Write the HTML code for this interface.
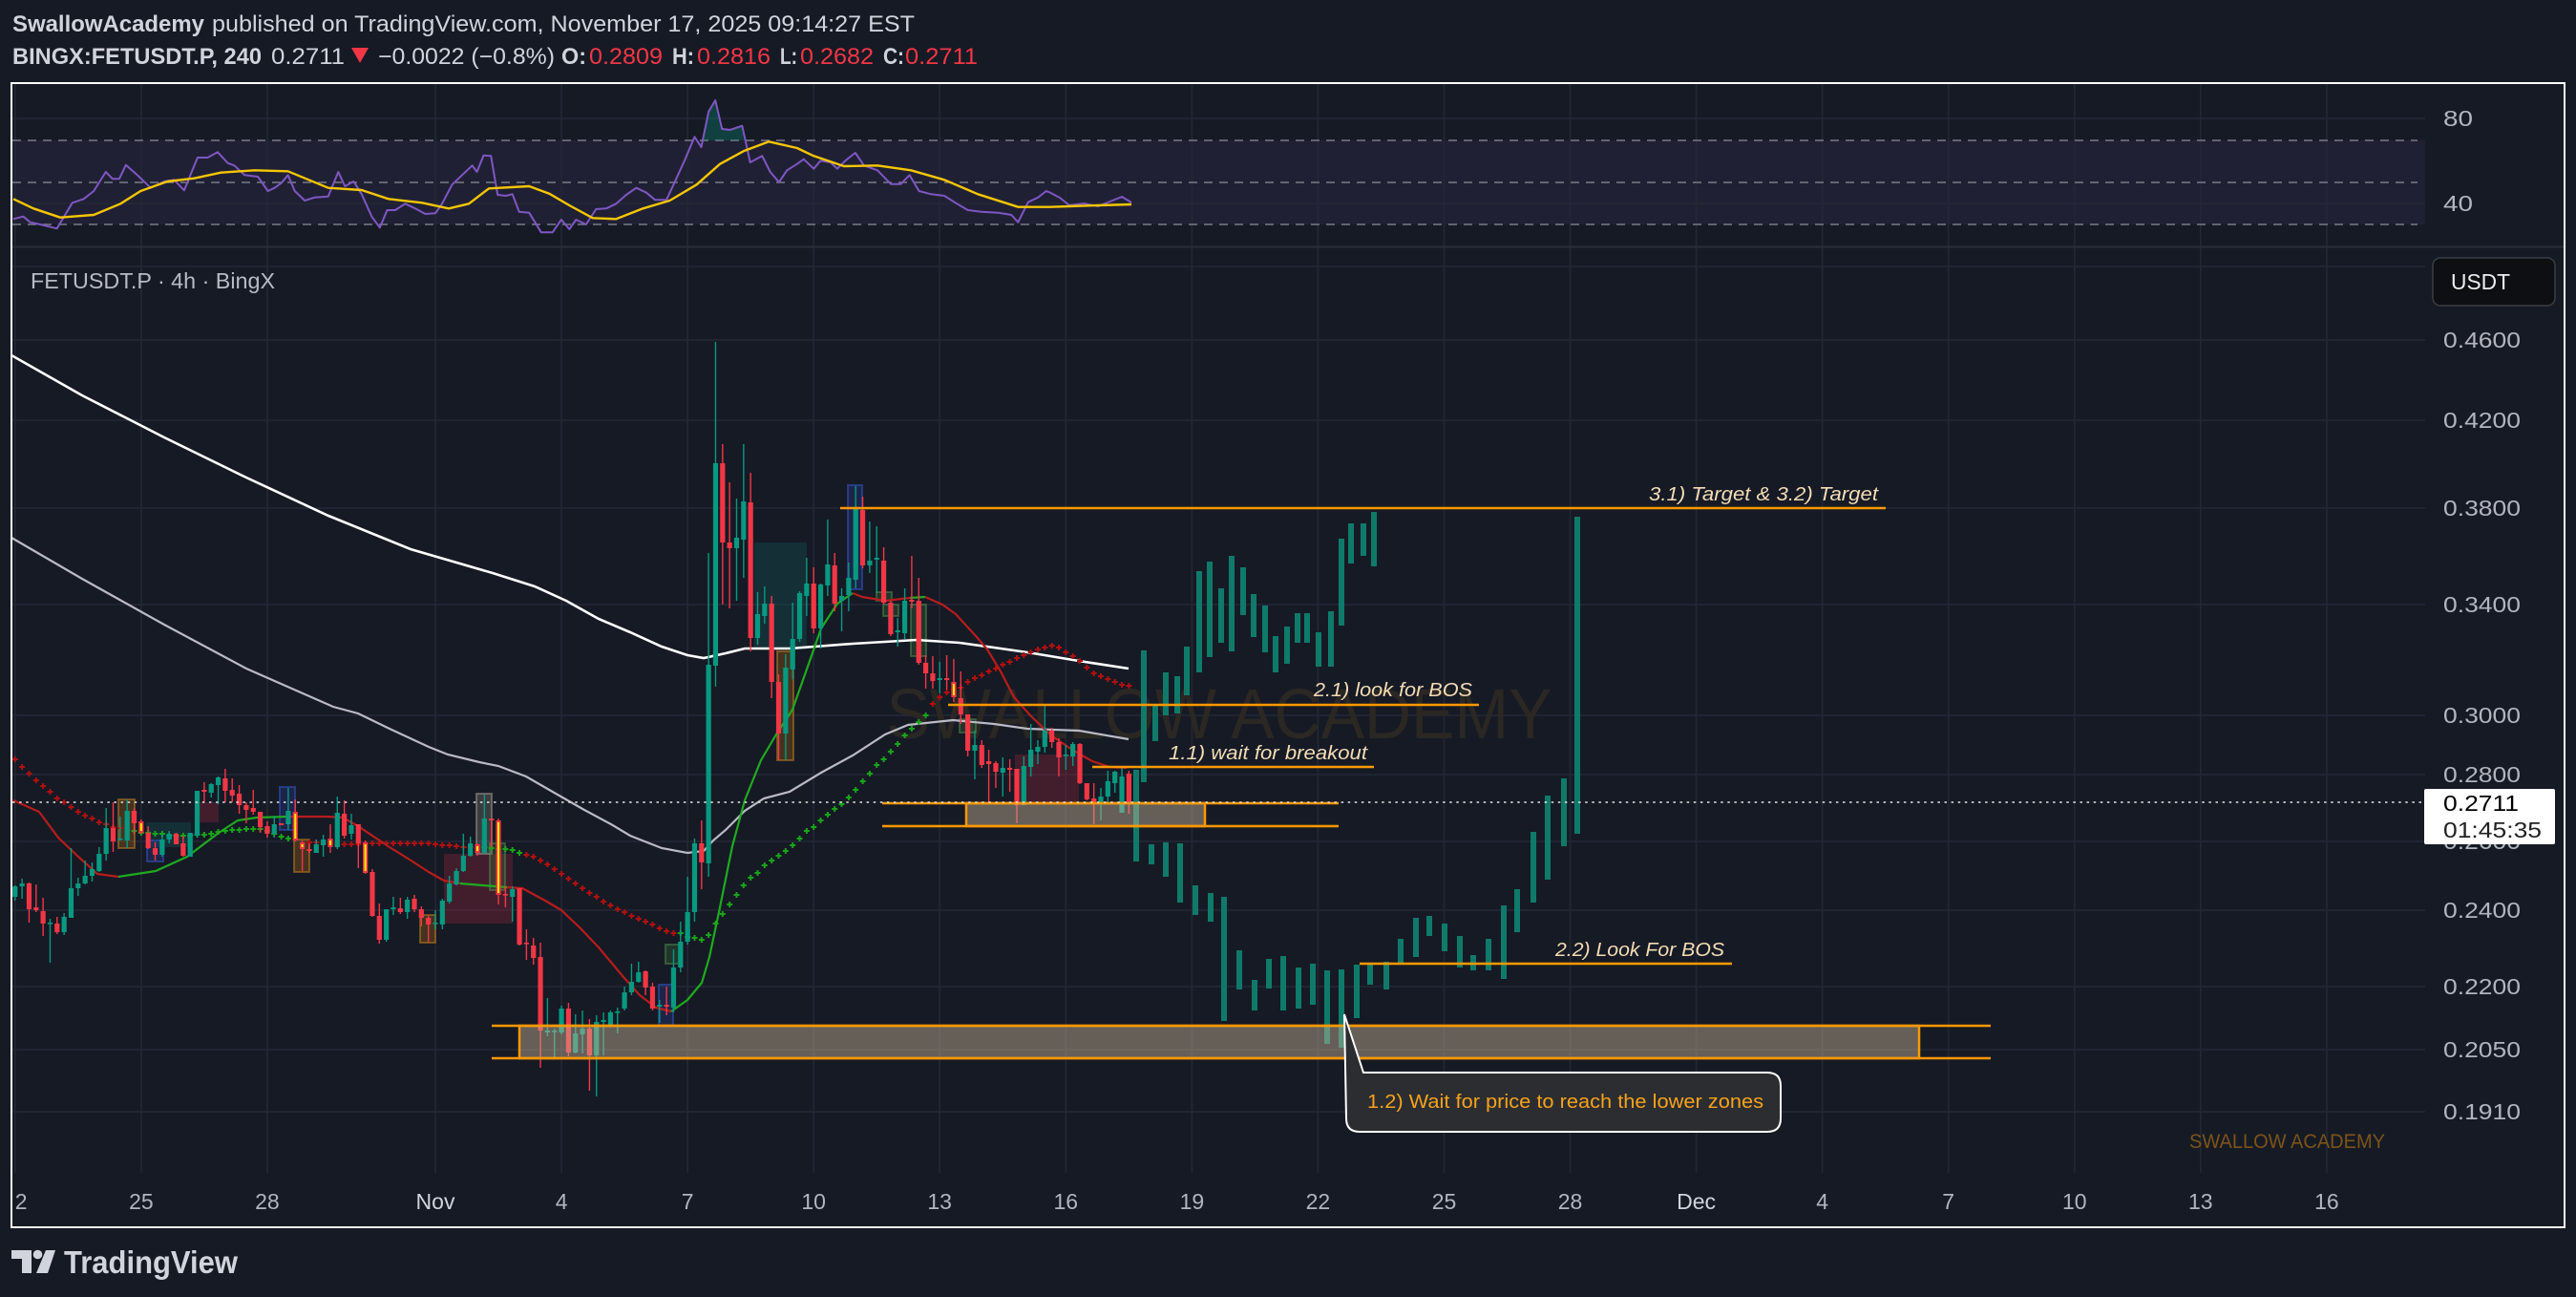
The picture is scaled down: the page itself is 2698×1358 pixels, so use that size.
<!DOCTYPE html>
<html><head><meta charset="utf-8">
<style>
html,body{margin:0;padding:0;background:#161a25;width:2698px;height:1358px;overflow:hidden}
svg{display:block}
text{font-family:"Liberation Sans",sans-serif}
</style></head>
<body>
<svg id="s" width="2698" height="1358" viewBox="0 0 2698 1358" xmlns="http://www.w3.org/2000/svg">
<defs>
<clipPath id="cm"><rect x="13" y="259" width="2527" height="969"/></clipPath>
<clipPath id="cr"><rect x="13" y="88" width="2527" height="170"/></clipPath>
<clipPath id="ct"><rect x="15" y="1228" width="2525" height="56"/></clipPath>
</defs>
<rect x="0" y="0" width="2698" height="1358" fill="#161a25"/>
<!-- RSI band -->
<rect x="13" y="147" width="2527" height="88" fill="rgba(126,87,194,0.10)"/>
<g id="grid"></g>
<g stroke="#787b86" stroke-width="1.5" stroke-dasharray="9 7">
<line x1="13" y1="147" x2="2532" y2="147"/>
<line x1="13" y1="191" x2="2532" y2="191"/>
<line x1="13" y1="235" x2="2532" y2="235"/>
</g>
<g id="rsi" clip-path="url(#cr)"></g>
<line x1="12" y1="258.5" x2="2686" y2="258.5" stroke="#2a2e39" stroke-width="2"/>

<!-- watermark -->
<text x="1277" y="773" text-anchor="middle" font-size="74" fill="#2b2723" textLength="697" lengthAdjust="spacingAndGlyphs">SWALLOW ACADEMY</text>

<g clip-path="url(#cm)">
<!-- shaded boxes -->
<g>
<rect x="465" y="894" width="72" height="73" fill="rgba(120,35,55,0.45)"/>
<rect x="204" y="840" width="25" height="21" fill="rgba(120,35,55,0.45)"/>
<rect x="1063" y="790" width="67" height="52" fill="rgba(120,35,55,0.45)"/>
<rect x="153" y="861" width="47" height="26" fill="rgba(20,90,90,0.35)"/>
<rect x="790" y="568" width="55" height="112" fill="rgba(20,90,90,0.35)"/>
<g fill="rgba(160,100,20,0.35)" stroke="rgba(200,130,30,0.5)" stroke-width="2">
<rect x="124" y="837" width="17" height="51"/>
<rect x="308" y="879" width="16" height="34"/>
<rect x="440" y="958" width="16" height="29"/>
<rect x="814" y="682" width="17" height="114"/>
</g>
<g fill="rgba(40,60,140,0.35)" stroke="rgba(50,80,180,0.6)" stroke-width="2">
<rect x="154" y="880" width="17" height="22"/>
<rect x="293" y="824" width="16" height="45"/>
<rect x="690" y="1031" width="15" height="43"/>
<rect x="888" y="508" width="15" height="109"/>
</g>
<rect x="499" y="831" width="16" height="63" fill="rgba(150,140,130,0.3)" stroke="rgba(170,160,150,0.5)" stroke-width="2"/>
<g fill="rgba(60,120,60,0.3)" stroke="rgba(80,140,80,0.5)" stroke-width="2">
<rect x="513" y="883" width="16" height="49"/>
<rect x="954" y="633" width="16" height="54"/>
<rect x="697" y="989" width="16" height="20"/>
<rect x="918" y="620" width="16" height="9"/>
<rect x="925" y="633" width="16" height="12"/>
<rect x="1005" y="753" width="17" height="14"/>
</g>
</g>
<!-- MAs -->
<polyline fill="none" stroke="#ffffff" stroke-width="2.6" points="12,372 86,414 172,458 258,500 344,540 430,575 516,600 560,614 593,629 627,648 660,662 693,677 720,686 737,689 760,684 780,679 827,679 893,674 960,670 1005,673 1041,678 1076,683 1130,692 1182,700"/>
<polyline fill="none" stroke="#b9bac4" stroke-width="2.2" points="12,563 86,606 172,654 258,700 349,740 375,747 408,763 449,782 469,790 502,798 522,802 551,813 584,832 612,848 640,863 660,875 693,888 720,893 737,891 747,880 760,869 780,849 800,836 827,829 860,809 893,791 927,769 951,759 998,754 1041,758 1076,763 1130,765 1182,774"/>
<g id="sar"></g>
<g fill="none" stroke-width="2.2" stroke-linejoin="round">
<polyline stroke="#b71c1c" points="14,838 41,850 61,877 82,897 102,915 124,918"/>
<polyline stroke="#1faa1f" points="124,918 163,912 196,897 229,872 249,859 269,856 302,855"/>
<polyline stroke="#b71c1c" points="302,855 343,855 359,856 375,865 408,887 429,900 449,913 465,922 482,925"/>
<polyline stroke="#1faa1f" points="482,925 506,927 531,929"/>
<polyline stroke="#b71c1c" points="531,929 547,930 571,943 588,953 608,972 627,992 653,1023 670,1042 687,1055 703,1059"/>
<polyline stroke="#1faa1f" points="703,1059 720,1047 735,1029 743,1002 753,955 767,886 780,838 797,796 813,769 830,743 847,695 860,658 877,632 893,621"/>
<polyline stroke="#b71c1c" points="893,621 903,625 927,629 953,626"/>
<polyline stroke="#1faa1f" points="953,626 969,625"/>
<polyline stroke="#b71c1c" points="969,625 987,633 1001,643 1023,667 1034,680 1048,703 1062,730 1080,750 1101,770 1123,785 1144,797 1162,803 1180,804"/>
</g>
<g id="candles"></g>
<g id="proj"></g>

<!-- zones -->
<g stroke="#ff9800" stroke-width="2.5">
<line x1="515" y1="1074" x2="2085" y2="1074"/>
<line x1="515" y1="1108" x2="2085" y2="1108"/>
<rect x="544" y="1074" width="1466" height="34" fill="rgba(200,180,150,0.45)"/>
<line x1="924" y1="841" x2="1402" y2="841"/>
<line x1="924" y1="865" x2="1402" y2="865"/>
<rect x="1012" y="841" width="250" height="24" fill="rgba(200,180,150,0.45)"/>
<line x1="880" y1="532" x2="1975" y2="532"/>
<line x1="993" y1="738" x2="1549" y2="738"/>
<line x1="1144" y1="803" x2="1439" y2="803"/>
<line x1="1424" y1="1009" x2="1814" y2="1009"/>
</g>
<g font-size="20" font-style="italic" fill="#f3dcb5">
<text x="1727" y="524" textLength="240" lengthAdjust="spacingAndGlyphs">3.1) Target &amp; 3.2) Target</text>
<text x="1376" y="729" textLength="166" lengthAdjust="spacingAndGlyphs">2.1) look for BOS</text>
<text x="1224" y="795" textLength="208" lengthAdjust="spacingAndGlyphs">1.1) wait for breakout</text>
<text x="1629" y="1001" textLength="177" lengthAdjust="spacingAndGlyphs">2.2) Look For BOS</text>
</g>
<!-- callout -->
<path d="M1408,1062 L1428,1123 L1851,1123 Q1865,1123 1865,1137 L1865,1171 Q1865,1185 1851,1185 L1424,1185 Q1410,1185 1410,1171 Z" fill="#2b2d31" stroke="#ffffff" stroke-width="2"/>
<text x="1432" y="1160" font-size="20" fill="#f7a21b" textLength="415" lengthAdjust="spacingAndGlyphs">1.2) Wait for price to reach the lower zones</text>
<text x="2293" y="1202" font-size="21" fill="#7c5418" textLength="205" lengthAdjust="spacingAndGlyphs">SWALLOW ACADEMY</text>
</g>
<!-- price line -->
<line x1="13" y1="840" x2="2538" y2="840" stroke="#e6e6e6" stroke-width="1.6" stroke-dasharray="2.5 4.6"/>

<!-- label -->
<text x="32" y="302" font-size="23" fill="#b8bbc4" textLength="256" lengthAdjust="spacingAndGlyphs">FETUSDT.P · 4h · BingX</text>

<!-- RSI axis labels -->
<g font-size="23" fill="#b2b5be">
<text x="2559" y="132" textLength="31" lengthAdjust="spacingAndGlyphs">80</text>
<text x="2559" y="221" textLength="31" lengthAdjust="spacingAndGlyphs">40</text>
</g>
<!-- Price axis labels -->
<g font-size="23" fill="#b2b5be">
<text x="2559" y="364" textLength="81" lengthAdjust="spacingAndGlyphs">0.4600</text>
<text x="2559" y="448" textLength="81" lengthAdjust="spacingAndGlyphs">0.4200</text>
<text x="2559" y="540" textLength="81" lengthAdjust="spacingAndGlyphs">0.3800</text>
<text x="2559" y="641" textLength="81" lengthAdjust="spacingAndGlyphs">0.3400</text>
<text x="2559" y="757" textLength="81" lengthAdjust="spacingAndGlyphs">0.3000</text>
<text x="2559" y="819" textLength="81" lengthAdjust="spacingAndGlyphs">0.2800</text>
<text x="2559" y="889" textLength="81" lengthAdjust="spacingAndGlyphs">0.2600</text>
<text x="2559" y="961" textLength="81" lengthAdjust="spacingAndGlyphs">0.2400</text>
<text x="2559" y="1041" textLength="81" lengthAdjust="spacingAndGlyphs">0.2200</text>
<text x="2559" y="1107" textLength="81" lengthAdjust="spacingAndGlyphs">0.2050</text>
<text x="2559" y="1172" textLength="81" lengthAdjust="spacingAndGlyphs">0.1910</text>
</g>
<!-- USDT box -->
<rect x="2548" y="270" width="128" height="50" rx="8" fill="#0e0f12" stroke="#3a3d45" stroke-width="1.5"/>
<text x="2567" y="303" font-size="23" fill="#ececec" textLength="62" lengthAdjust="spacingAndGlyphs">USDT</text>
<!-- current price box -->
<rect x="2539" y="826" width="137" height="58" rx="2" fill="#ffffff"/>
<text x="2559" y="849" font-size="23" fill="#000000" textLength="79" lengthAdjust="spacingAndGlyphs">0.2711</text>
<text x="2559" y="877" font-size="23" fill="#222222" textLength="103" lengthAdjust="spacingAndGlyphs">01:45:35</text>

<!-- time axis -->
<g font-size="23" fill="#b2b5be" text-anchor="middle" clip-path="url(#ct)">
<text x="15.8" y="1266">22</text>
<text x="147.9" y="1266">25</text>
<text x="279.9" y="1266">28</text>
<text x="456" y="1266" fill="#d1d4dc">Nov</text>
<text x="588.1" y="1266">4</text>
<text x="720.1" y="1266">7</text>
<text x="852.2" y="1266">10</text>
<text x="984.2" y="1266">13</text>
<text x="1116.3" y="1266">16</text>
<text x="1248.4" y="1266">19</text>
<text x="1380.4" y="1266">22</text>
<text x="1512.5" y="1266">25</text>
<text x="1644.5" y="1266">28</text>
<text x="1776.6" y="1266" fill="#d1d4dc">Dec</text>
<text x="1908.7" y="1266">4</text>
<text x="2040.7" y="1266">7</text>
<text x="2172.8" y="1266">10</text>
<text x="2304.8" y="1266">13</text>
<text x="2436.9" y="1266">16</text>
</g>

<!-- frame -->
<rect x="12" y="87" width="2674" height="1198" fill="none" stroke="#ffffff" stroke-width="2"/>

<!-- header -->
<text x="13" y="33" font-size="24" font-weight="bold" fill="#d1d4dc" textLength="201" lengthAdjust="spacingAndGlyphs">SwallowAcademy</text>
<text x="222" y="33" font-size="24" fill="#d1d4dc" textLength="736" lengthAdjust="spacingAndGlyphs">published on TradingView.com, November 17, 2025 09:14:27 EST</text>
<g font-size="24" fill="#d1d4dc">
<text x="13" y="67" font-weight="bold" textLength="261" lengthAdjust="spacingAndGlyphs">BINGX:FETUSDT.P, 240</text>
<text x="284" y="67" textLength="77" lengthAdjust="spacingAndGlyphs">0.2711</text>
<text x="396" y="67" textLength="185" lengthAdjust="spacingAndGlyphs">−0.0022 (−0.8%)</text>
<text x="588" y="67" font-weight="bold" textLength="26" lengthAdjust="spacingAndGlyphs">O:</text>
<text x="617" y="67" fill="#f23645" textLength="77" lengthAdjust="spacingAndGlyphs">0.2809</text>
<text x="704" y="67" font-weight="bold" textLength="23" lengthAdjust="spacingAndGlyphs">H:</text>
<text x="730" y="67" fill="#f23645" textLength="77" lengthAdjust="spacingAndGlyphs">0.2816</text>
<text x="817" y="67" font-weight="bold" textLength="18" lengthAdjust="spacingAndGlyphs">L:</text>
<text x="838" y="67" fill="#f23645" textLength="77" lengthAdjust="spacingAndGlyphs">0.2682</text>
<text x="925" y="67" font-weight="bold" textLength="22" lengthAdjust="spacingAndGlyphs">C:</text>
<text x="948" y="67" fill="#f23645" textLength="76" lengthAdjust="spacingAndGlyphs">0.2711</text>
</g>
<polygon points="368,50 386,50 377,66" fill="#f23645"/>

<!-- TradingView logo -->
<g fill="#d1d4dc">
<rect x="12" y="1309" width="21" height="9"/>
<rect x="23" y="1309" width="10" height="24"/>
<circle cx="39.5" cy="1313.5" r="4.8"/>
<polygon points="48,1309 58,1309 50,1333 38,1333"/>
<text x="67" y="1333" font-size="33" font-weight="bold" textLength="182" lengthAdjust="spacingAndGlyphs">TradingView</text>
</g>
</svg>
<script>
(function(){
var NS='http://www.w3.org/2000/svg';
function E(t,a,p){var e=document.createElementNS(NS,t);for(var k in a)e.setAttribute(k,a[k]);p.appendChild(e);return e;}
// grid
var g=document.getElementById('grid');
var VX=[15.8,147.9,279.9,456,588.1,720.1,852.2,984.2,1116.3,1248.4,1380.4,1512.5,1644.5,1776.6,1908.7,2040.7,2172.8,2304.8,2436.9];
VX.forEach(function(x){E('line',{x1:x,y1:88,x2:x,y2:1228,stroke:'#232734','stroke-width':1.7},g);});
var HY=[279,356,440,532,633,749,811,881,953,1033,1099,1164];
HY.forEach(function(y){E('line',{x1:13,y1:y,x2:2540,y2:y,stroke:'#232734','stroke-width':1.7},g);});
[124,213].forEach(function(y){E('line',{x1:13,y1:y,x2:2540,y2:y,stroke:'#232734','stroke-width':1.7},g);});
// RSI
var r=document.getElementById('rsi');
E('polygon',{points:'736,147 742.2,116.7 749.2,105 756.2,135 764.6,136 777.3,131.7 779,147',fill:'rgba(8,153,129,0.3)'},r);
var rp=[20,688,35,680,45,698,60,705,85,718,108,637,125,625,140,600,158,540,168,562,178,562,188,518,205,550,225,590,245,570,260,565,275,598,295,495,310,495,325,478,340,512,350,520,365,550,385,555,400,600,410,590,420,575,430,550,440,600,455,630,470,620,490,617,505,540,515,585,528,570,540,610,555,680,567,715,578,660,590,660,605,640,620,655,635,672,650,670,660,640,675,580,690,550,705,520,712,540,722,488,733,490,743,612,755,615,765,610,775,665,790,668,808,730,825,730,838,690,850,720,860,690,875,705,890,657,905,655,920,640,935,612,950,590,965,605,978,628,995,628,1010,560,1022,505,1037,430,1047,462,1058,350,1068,315,1078,405,1090,408,1108,395,1120,510,1138,490,1150,540,1163,572,1175,535,1190,515,1200,500,1215,530,1225,505,1240,510,1250,530,1262,505,1277,480,1290,520,1310,535,1330,578,1345,578,1358,550,1372,600,1390,610,1410,615,1425,635,1445,660,1465,665,1490,668,1510,675,1520,698,1535,635,1550,620,1562,600,1568,605];
var pts=[];for(var k=0;k<rp.length;k+=2)pts.push((rp[k]/1.4255).toFixed(1)+','+(rp[k+1]/3).toFixed(1));
pts=pts.concat(['1110,207','1120,215','1135,213','1150,216','1165,210','1175,206','1185,212']);
E('polyline',{points:pts.join(' '),fill:'none',stroke:'#7e57c2','stroke-width':2,'stroke-linejoin':'round'},r);
var yp=[20,625,50,655,90,683,140,675,180,640,210,600,250,570,290,560,330,542,380,535,430,538,490,590,540,597,580,625,630,637,670,655,700,640,730,592,790,585,820,608,850,645,885,685,920,688,960,655,1000,630,1040,580,1075,515,1110,475,1148,445,1190,465,1215,490,1260,522,1310,520,1360,535,1410,565,1460,610,1520,650,1568,650];
var p2=[];for(k=0;k<yp.length;k+=2)p2.push((yp[k]/1.4255).toFixed(1)+','+(yp[k+1]/3).toFixed(1));
p2=p2.concat(['1120,216','1150,215','1185,214']);
E('polyline',{points:p2.join(' '),fill:'none',stroke:'#f7c600','stroke-width':2.4,'stroke-linejoin':'round'},r);
function X(i){return 456+7.337*i;}
// SAR
var s=document.getElementById('sar');
var SAR=[[-60,0,[795,803,810,817,823,829,836,840,845,850,854,857,861,863,866,867]],
[-43,1,[870,872,872,873,873,875,875,875,875,874,874,873,871,870,869,869,868,868,868,870,873,876,878]],
[-18,0,[882,882,883,883,884,884,884,884,883,883,883,883,883,883,883,883,883,883,884,885,885,886,887,887]],
[7,1,[887,888,889,889,890,893]],
[13,0,[895,897,901,905,910,915,920,925,930,935,939,944,948,952,955,959,962,965,968,972,975,977]],
[35,1,[977,981,982,984,979,967,957,947,937,927,919,914,906,901,896,891,885,878,870,866,859,853,847,842,835,827,818,810,801,795,787,779,770,763,756,749]],
[71,0,[737,730,725,722,720,714,710,707,703,700,696,693,689,686,683,680,678,676,678,683,687,692,699,705,708,711,714,717,718]]];
SAR.forEach(function(seg){var col=seg[1]?'#18a418':'#b01010';seg[2].forEach(function(y,j){var x=X(seg[0]+j);
E('rect',{x:(x-3).toFixed(1),y:y-1,width:6,height:2,fill:col},s);E('rect',{x:(x-1).toFixed(1),y:y-3,width:2,height:6,fill:col},s);});});
// candles
var CD=[[-60,1,928,939,927,943],[-59,1,925,928,920,941],[-58,0,925,952,924,966],[-57,0,950,953,926,955],[-56,0,954,967,940,980],[-55,1,966,967,962,1008],[-54,0,967,976,960,978],[-53,1,960,976,956,979],[-52,1,930,961,888,961],[-51,1,925,930,919,938],[-50,1,917,925,901,926],[-49,1,910,917,903,923],[-48,1,894,912,887,913],[-47,1,867,894,846,901],[-46,0,867,881,840,892],[-45,1,878,879,855,880],[-44,1,849,880,837,888],[-43,0,849,862,846,873],[-42,0,860,872,858,873,1],[-41,0,872,888,865,889],[-40,0,888,895,882,901],[-39,1,879,895,873,897],[-38,1,873,879,870,883],[-37,0,873,884,872,884],[-36,0,883,896,875,897],[-35,1,872,897,872,897],[-34,1,828,875,828,877],[-33,0,827,829,819,840],[-32,1,821,830,820,835],[-31,1,814,822,813,842],[-30,0,815,828,805,840],[-29,0,827,833,815,840],[-28,0,831,843,822,852],[-27,0,843,848,840,862],[-26,0,846,850,827,853],[-25,0,850,866,850,872],[-24,0,865,873,860,877],[-23,1,863,873,854,877],[-22,0,862,864,862,864],[-21,1,849,863,825,869],[-20,0,850,880,837,881,1],[-19,0,882,889,880,912,1],[-18,0,889,891,883,893],[-17,1,884,893,879,893],[-16,1,879,885,874,897],[-15,0,878,887,863,893,1],[-14,1,851,887,834,889],[-13,0,852,875,838,878],[-12,1,864,873,852,879],[-11,0,863,883,863,909],[-10,0,882,914,880,915,1],[-9,0,913,959,910,960],[-8,0,959,984,946,988],[-7,1,952,984,952,986],[-6,1,950,952,939,958],[-5,0,951,955,940,957],[-4,1,942,955,939,962],[-3,0,941,952,937,955],[-2,0,952,961,949,970],[-1,0,961,968,959,987],[0,1,966,967,953,973],[1,1,943,968,941,973],[2,1,925,944,917,946],[3,1,912,926,909,927],[4,1,896,912,873,913],[5,1,883,896,876,897],[6,0,884,893,883,896,1],[7,1,857,893,832,894],[8,0,857,859,857,887],[9,0,859,937,857,947,1],[10,0,936,937,928,950],[11,1,931,939,928,965],[12,0,930,989,930,990],[13,0,987,988,973,1005],[14,0,990,1003,982,1010],[15,0,1002,1079,987,1118],[16,1,1079,1081,1045,1085],[17,1,1079,1080,1077,1107],[18,1,1056,1081,1053,1083],[19,0,1056,1102,1050,1106],[20,1,1082,1102,1062,1103],[21,1,1077,1083,1058,1103],[22,0,1077,1105,1067,1142],[23,1,1070,1105,1063,1148],[24,1,1068,1070,1060,1105],[25,1,1060,1074,1058,1076],[26,1,1059,1060,1055,1082],[27,1,1039,1056,1033,1058],[28,1,1028,1039,1009,1042],[29,1,1018,1028,1007,1029],[30,0,1017,1034,1016,1042],[31,0,1033,1056,1029,1058],[32,1,1052,1054,1047,1071],[33,0,1052,1054,1033,1063],[34,1,1013,1055,994,1060],[35,1,986,1013,965,1018],[36,1,955,986,918,989],[37,1,883,955,878,965],[38,0,883,903,859,931],[39,1,696,904,579,918],[40,1,485,697,358,719],[41,0,485,568,465,633],[42,0,568,574,505,637],[43,1,563,574,522,629],[44,1,525,565,465,605],[45,0,526,668,495,682],[46,1,643,668,620,675],[47,1,632,645,614,653],[48,0,632,714,624,731],[49,0,714,768,706,796],[50,1,699,768,685,796],[51,1,669,701,631,711],[52,1,621,669,619,672],[53,1,611,624,584,645],[54,0,611,658,594,663],[55,1,612,658,611,679],[56,1,591,613,544,624],[57,0,592,632,579,640],[58,1,624,629,616,661],[59,1,605,623,589,640],[60,1,531,607,509,616],[61,0,534,592,520,595],[62,1,587,592,546,600],[63,1,584,586,551,621],[64,0,587,631,573,633],[65,0,631,664,629,666],[66,1,660,662,647,677],[67,1,629,663,616,669],[68,0,628,630,582,637],[69,0,629,694,605,696],[70,0,694,705,686,721],[71,0,705,713,687,721],[72,1,710,712,693,726],[73,0,710,712,686,722],[74,0,714,730,690,735,1],[75,0,731,748,703,758],[76,0,748,786,748,792],[77,1,780,786,765,816],[78,0,780,801,775,804],[79,0,797,800,785,841],[80,0,799,808,797,825],[81,1,804,809,793,834],[82,0,804,806,795,829],[83,0,805,843,805,862],[84,1,802,843,792,843],[85,1,785,803,758,813],[86,1,782,787,775,800],[87,1,765,782,738,788],[88,0,765,777,762,783],[89,0,777,793,773,813],[90,1,790,791,780,806],[91,1,779,792,777,802],[92,0,779,820,778,821],[93,0,820,837,820,838],[94,0,836,842,820,863],[95,1,834,842,825,859],[96,1,818,834,807,842],[97,1,808,820,807,830],[98,1,813,851,803,851],[99,0,810,842,807,852]];
var gc=document.getElementById('candles');
CD.forEach(function(c){var x=X(c[0]);var col=c[1]?'#089981':'#f23645';
E('rect',{x:(x-0.7).toFixed(2),y:c[4],width:1.4,height:Math.max(c[5]-c[4],1),fill:col},gc);
E('rect',{x:(x-2.6).toFixed(2),y:c[2],width:5.2,height:Math.max(c[3]-c[2],1.6),fill:col},gc);
if(c[6]){E('rect',{x:(x-1).toFixed(2),y:c[2]+2,width:2,height:Math.max(c[3]-c[2]-4,2),fill:'#ffee00'},gc);}});
// projection bars
var gp=document.getElementById('proj');
var PB=[[1198,681,819],[1210,738,776],[1221,704,749],[1233,708,747],[1243,677,728],[1256,598,704],[1267,588,688],[1279,616,673],[1290,582,682],[1302,594,644],[1313,622,667],[1325,634,683],[1336,666,704],[1348,656,695],[1359,642,673],[1369,642,673],[1381,662,698],[1394,640,698],[1405,564,655],[1415,548,590],[1428,548,582],[1439,536,593],
[1190,806,902],[1206,884,905],[1221,882,918],[1236,883,945],[1252,927,958],[1268,935,965],[1282,939,1069],[1298,995,1036],[1314,1026,1058],[1329,1004,1035],[1344,1001,1058],[1360,1013,1056],[1375,1009,1052],[1390,1016,1093],[1405,1015,1097],[1421,1010,1066],[1435,1010,1031],[1452,1007,1036],[1467,983,1008],[1483,961,1002],[1497,959,980],[1513,967,996],[1529,980,1013],[1543,1000,1016],[1559,983,1016],[1575,948,1025],[1589,931,976],[1606,871,945],[1621,833,921],[1638,815,886],[1652,541,873]];
PB.forEach(function(b){E('rect',{x:b[0]-3,y:b[1],width:6,height:b[2]-b[1],fill:'#0f7a6a'},gp);});
})();
</script>
</body></html>
